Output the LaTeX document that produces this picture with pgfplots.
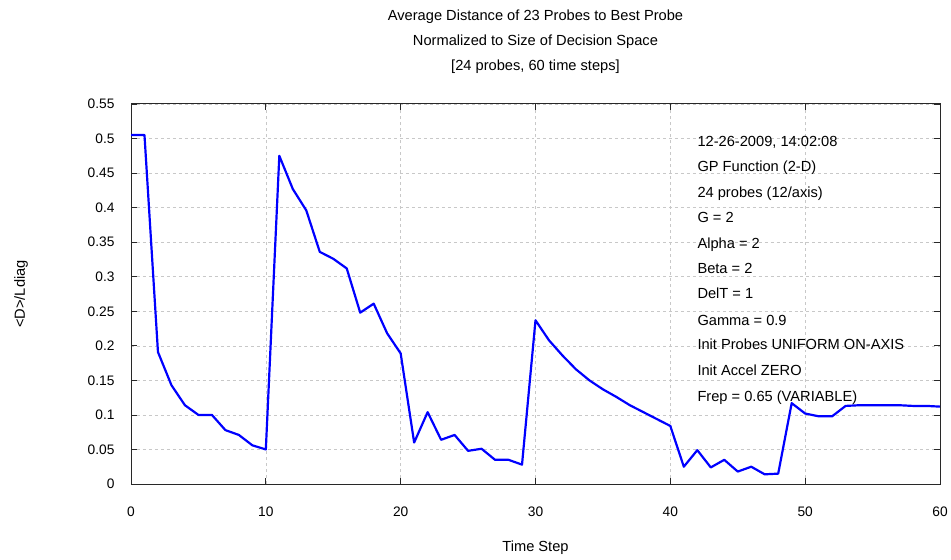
\documentclass[border=0pt]{standalone}
\usepackage{fontspec}
\setmainfont{Liberation Sans}
\usepackage{pgfplots}
\pgfplotsset{compat=1.18}

\definecolor{gridgray}{RGB}{200,200,200}
\definecolor{frame}{RGB}{40,40,40}

\newcommand{\lbl}{\fontsize{13.8}{16}\selectfont}
\newcommand{\txt}{\fontsize{14.7}{17}\selectfont}

\begin{document}
\begin{tikzpicture}
\useasboundingbox (0,0) rectangle (951bp,560bp);
\begin{axis}[
    at={(131bp,76bp)}, anchor=south west,
    width=809bp, height=380bp, scale only axis,
    xmin=0, xmax=60, ymin=0, ymax=0.55,
    xtick={0,10,20,30,40,50,60},
    ytick={0,0.05,0.1,0.15,0.2,0.25,0.3,0.35,0.4,0.45,0.5,0.55},
    scaled y ticks=false,
    yticklabel style={/pgf/number format/fixed, /pgf/number format/precision=2},
    /pgf/number format/assume math mode=true,
    tick label style={font=\lbl},
    xticklabel style={yshift=-19bp},
    yticklabel style={xshift=-13bp},
    tick align=inside,
    major tick length=6bp,
    tick style={frame, line width=0.8pt},
    axis line style={frame, line width=1pt},
    grid=major,
    major grid style={gridgray, dashed, line width=0.6pt},
    clip=false,
]
\addplot[color=blue, line width=2.2pt, line join=round] coordinates {
    (0,0.505) (1,0.505) (2,0.191) (3,0.143) (4,0.114) (5,0.100)
    (6,0.100) (7,0.078) (8,0.071) (9,0.056) (10,0.050)
    (11,0.475) (12,0.427) (13,0.396) (14,0.336) (15,0.326)
    (16,0.312) (17,0.248) (18,0.261) (19,0.218) (20,0.189)
    (21,0.060) (22,0.104) (23,0.064) (24,0.071) (25,0.048)
    (26,0.051) (27,0.035) (28,0.035) (29,0.028) (30,0.237)
    (31,0.208) (32,0.186) (33,0.166) (34,0.150) (35,0.137)
    (36,0.126) (37,0.114) (38,0.104) (39,0.094) (40,0.084)
    (41,0.025) (42,0.049) (43,0.024) (44,0.035) (45,0.018)
    (46,0.025) (47,0.014) (48,0.015) (49,0.117) (50,0.102)
    (51,0.098) (52,0.098) (53,0.113) (54,0.114) (55,0.114)
    (56,0.114) (57,0.114) (58,0.113) (59,0.113) (60,0.112)
};

% title
\node[font=\txt, anchor=base] at ([yshift=83.5bp]rel axis cs:0.5,1) {Average Distance of 23 Probes to Best Probe};
\node[font=\txt, anchor=base] at ([yshift=58.5bp]rel axis cs:0.5,1) {Normalized to Size of Decision Space};
\node[font=\txt, anchor=base] at ([yshift=33.5bp]rel axis cs:0.5,1) {[24 probes, 60 time steps]};

% axis labels
\node[font=\txt] at ([yshift=-64bp]rel axis cs:0.5,0) {Time Step};
\node[font=\txt, rotate=90] at ([xshift=-110bp]rel axis cs:0,0.5) {<D>/Ldiag};

% run parameters
\node[font=\txt, anchor=base west, inner sep=0] at (axis cs:42,0.488) {12-26-2009, 14:02:08};
\node[font=\txt, anchor=base west, inner sep=0] at (axis cs:42,0.452) {GP Function (2-D)};
\node[font=\txt, anchor=base west, inner sep=0] at (axis cs:42,0.414) {24 probes (12/axis)};
\node[font=\txt, anchor=base west, inner sep=0] at (axis cs:42,0.378) {G = 2};
\node[font=\txt, anchor=base west, inner sep=0] at (axis cs:42,0.341) {Alpha = 2};
\node[font=\txt, anchor=base west, inner sep=0] at (axis cs:42,0.305) {Beta = 2};
\node[font=\txt, anchor=base west, inner sep=0] at (axis cs:42,0.268) {DelT = 1};
\node[font=\txt, anchor=base west, inner sep=0] at (axis cs:42,0.230) {Gamma = 0.9};
\node[font=\txt, anchor=base west, inner sep=0] at (axis cs:42,0.194) {Init Probes UNIFORM ON-AXIS};
\node[font=\txt, anchor=base west, inner sep=0] at (axis cs:42,0.157) {Init Accel ZERO};
\node[font=\txt, anchor=base west, inner sep=0] at (axis cs:42,0.120) {Frep = 0.65 (VARIABLE)};
\end{axis}
\end{tikzpicture}
\end{document}
